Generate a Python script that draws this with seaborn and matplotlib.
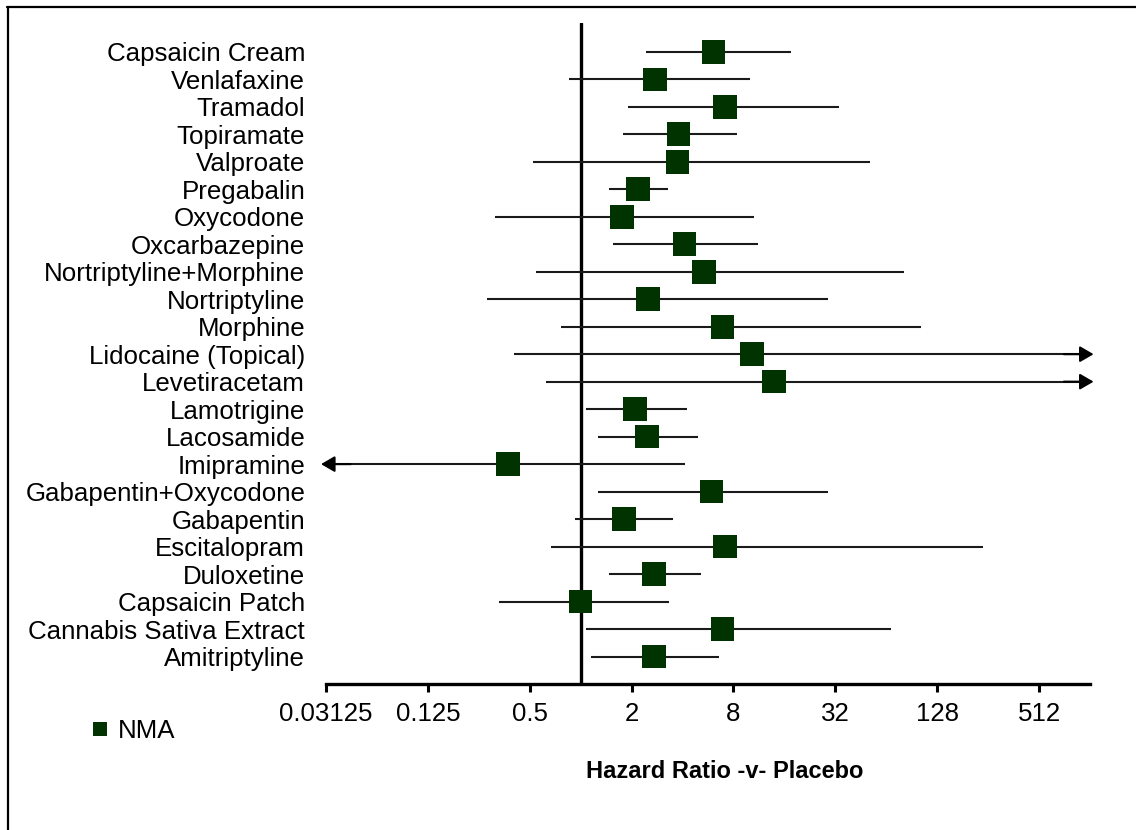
import numpy as np
import pandas as pd
import matplotlib
matplotlib.use("Agg")
import matplotlib.pyplot as plt
import seaborn as sns
from matplotlib.lines import Line2D
from matplotlib.ticker import NullLocator, FixedLocator, FixedFormatter

# ---------------- data ----------------
treatments = ["Capsaicin Cream", "Venlafaxine", "Tramadol", "Topiramate", "Valproate",
              "Pregabalin", "Oxycodone", "Oxcarbazepine", "Nortriptyline+Morphine",
              "Nortriptyline", "Morphine", "Lidocaine (Topical)", "Levetiracetam",
              "Lamotrigine", "Lacosamide", "Imipramine", "Gabapentin+Oxycodone",
              "Gabapentin", "Escitalopram", "Duloxetine", "Capsaicin Patch",
              "Cannabis Sativa Extract", "Amitriptyline"]
hazard_ratio = [6.1, 2.76, 7.1, 3.78, 3.73, 2.19, 1.76, 4.1, 5.38, 2.51, 6.89, 10.3, 13.9,
                2.09, 2.47, 0.373, 5.93, 1.80, 7.1, 2.72, 1.0, 6.89, 2.72]
ci_low = [2.43, 0.855, 1.91, 1.79, 0.523, 1.47, 0.312, 1.56, 0.541, 0.279, 0.76, 0.405, 0.624,
          1.08, 1.26, 0.0, 1.26, 0.921, 0.666, 1.48, 0.328, 1.07, 1.15]
ci_high = [17.4, 9.96, 33.6, 8.34, 51.5, 3.26, 10.6, 11.2, 81.4, 28.8, 103.0, np.inf, np.inf,
           4.25, 4.97, 4.15, 28.9, 3.51, 238.0, 5.15, 3.32, 68.7, 6.55]
tick_values = [0.03125, 0.125, 0.5, 2, 8, 32, 128, 512]
tick_labels = ["0.03125", "0.125", "0.5", "2", "8", "32", "128", "512"]
series_name = "NMA"

# ---------------- style ----------------
sns.set_style("white")
plt.rcParams["font.family"] = ["Liberation Sans", "DejaVu Sans"]
plt.rcParams["text.color"] = "black"
plt.rcParams["xtick.color"] = "black"
plt.rcParams["ytick.color"] = "black"
plt.rcParams["axes.labelcolor"] = "black"

W, H = 1136, 830
fig = plt.figure(figsize=(W / 100, H / 100), dpi=100)
fig.patch.set_facecolor("white")

xmin, xmax = 2.0 ** -5, 2.0 ** 10
ax = fig.add_axes([326 / W, 1 - 684 / H, (1090 - 326) / W, (684 - 23) / H])

df = pd.DataFrame({
    "treatment": treatments,
    "hr": hazard_ratio,
    "lo": ci_low,
    "hi": ci_high,
})
df["pos"] = np.arange(len(df))

green = "#013301"

# CI lines
lo_c = df["lo"].clip(lower=xmin)
hi_c = df["hi"].clip(upper=xmax)
ax.hlines(df["pos"], lo_c, hi_c, color="#1a1a1a", lw=1.5, zorder=2)

# arrows for intervals running off the axis
arrow_kw = dict(arrowstyle="-|>,head_length=0.55,head_width=0.32", color="black", lw=1.5,
                mutation_scale=15, shrinkA=0, shrinkB=0)
for _, r in df.iterrows():
    if r["hi"] > xmax:
        ax.annotate("", xy=(xmax * 1.05, r["pos"]), xytext=(xmax * 0.7, r["pos"]),
                    arrowprops=arrow_kw, annotation_clip=False, zorder=3)
    if r["lo"] < xmin:
        ax.annotate("", xy=(xmin / 1.07, r["pos"]), xytext=(xmin * 1.4, r["pos"]),
                    arrowprops=arrow_kw, annotation_clip=False, zorder=3)

# point estimates
sns.scatterplot(data=df, x="hr", y="pos", marker="s", s=290, color=green,
                edgecolor="none", linewidth=0, ax=ax, zorder=4, legend=False)

# reference line at HR = 1
ax.axvline(1, color="black", lw=2.4, zorder=1)

ax.set_xscale("log", base=2)
ax.set_xlim(xmin, xmax)
ax.set_ylim(len(df), -1.05)
ax.xaxis.set_major_locator(FixedLocator(tick_values))
ax.xaxis.set_major_formatter(FixedFormatter(tick_labels))
ax.xaxis.set_minor_locator(NullLocator())
ax.set_yticks(df["pos"])
ax.set_yticklabels(df["treatment"])
ax.tick_params(axis="y", length=0, pad=15, labelsize=18.6)
ax.tick_params(axis="x", direction="out", length=6, width=2.2, pad=7, labelsize=18.6,
               color="black", bottom=True)
ax.set_xlabel("")
ax.set_ylabel("")
for s in ["left", "top", "right"]:
    ax.spines[s].set_visible(False)
ax.spines["bottom"].set_linewidth(2.4)
ax.spines["bottom"].set_color("black")
ax.grid(False)

# x axis title
fig.text(725 / W, 1 - 771 / H, "Hazard Ratio -v- Placebo", ha="center", va="center",
         fontsize=17, fontweight="bold", color="black")

# legend
handle = Line2D([], [], marker="s", ls="", color=green, markersize=10.5, markeredgewidth=0)
fig.legend(handles=[handle], labels=[series_name], loc="center left",
           bbox_to_anchor=(87 / W, 1 - 731 / H), frameon=False, fontsize=18.6,
           borderpad=0, borderaxespad=0, handlelength=1.0, handletextpad=0.2)

# outer frame (top and left edges visible)
fig.add_artist(Line2D([7 / W, 1], [1 - 7.5 / H, 1 - 7.5 / H], transform=fig.transFigure,
                      color="black", lw=1.6))
fig.add_artist(Line2D([7.5 / W, 7.5 / W], [0, 1 - 7.5 / H], transform=fig.transFigure,
                      color="black", lw=1.6))

fig.savefig("out.png", dpi=100, facecolor="white")
